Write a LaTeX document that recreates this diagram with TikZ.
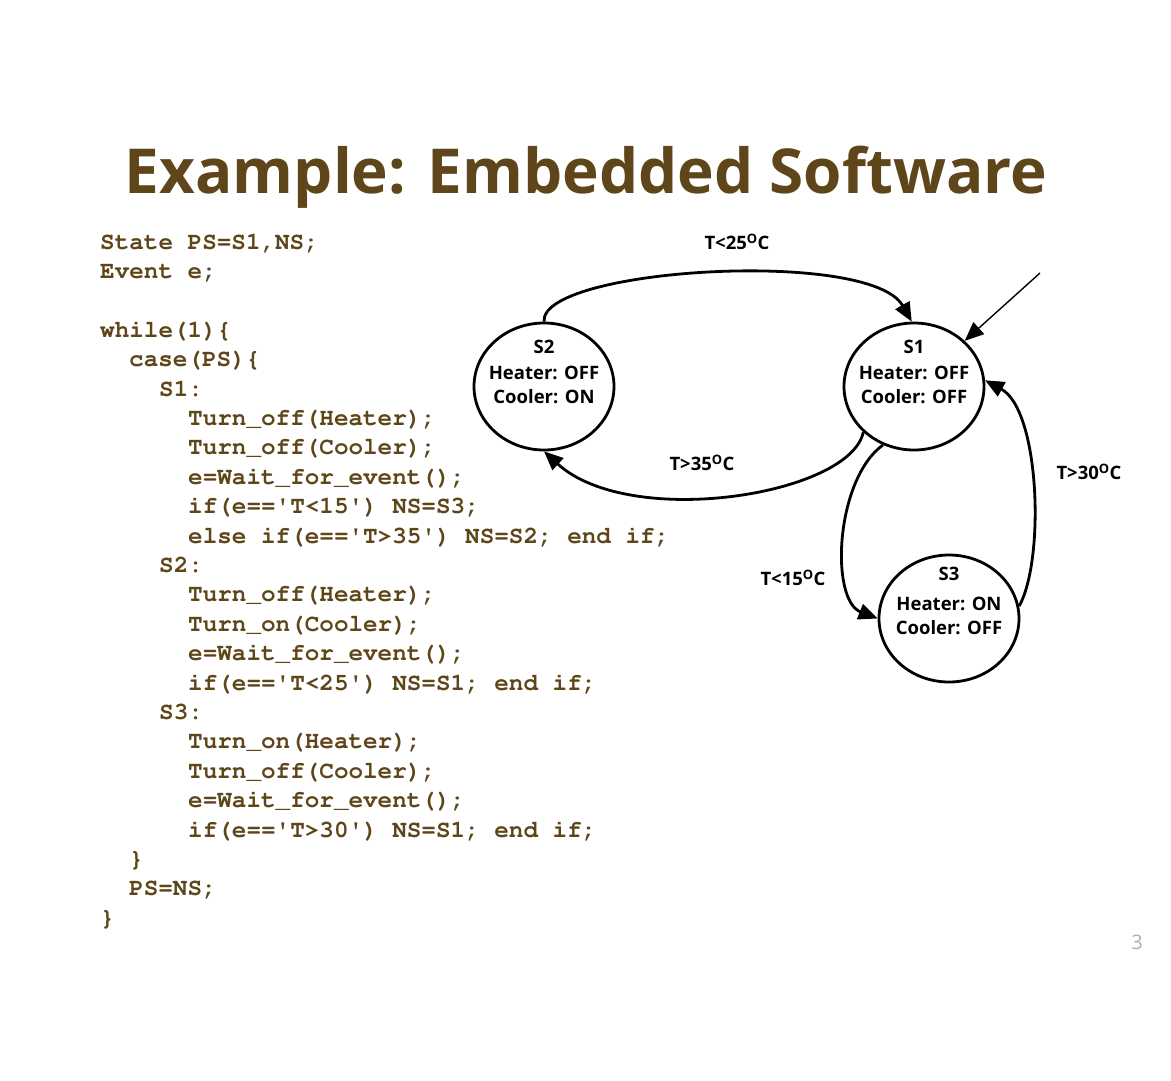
\documentclass[tikz,border=0pt]{standalone}
\usepackage[T1]{fontenc}
\usepackage{fontspec}
\setmainfont{Open Sans}
\newfontfamily\titlefont{Open Sans}
\usetikzlibrary{arrows.meta,calc,shapes.geometric}
\definecolor{slidebrown}{RGB}{94,70,26}
\definecolor{pagegray}{RGB}{175,175,175}
% bold Courier for the program listing
\newcommand\listingfont{\fontencoding{T1}\fontfamily{pcr}\fontseries{b}\fontshape{n}\fontsize{24.3}{29.4}\selectfont}
\newcommand\q{\textquotesingle}
\begin{document}
\begin{tikzpicture}[x=1pt,y=-1pt,
  code/.style={anchor=base west,inner sep=0pt,text=slidebrown,font=\listingfont},
  state/.style={ellipse,draw,line width=2.8pt,minimum width=140pt,minimum height=127pt,inner sep=0pt},
  statetext/.style={align=center,inner sep=0pt,
    font=\bfseries\fontsize{18.5}{24}\selectfont},
  edgelabel/.style={inner sep=0pt,font=\bfseries\fontsize{18.5}{22}\selectfont},
  trans/.style={line width=2.8pt,-{Triangle[length=19pt,width=16pt]}}]
\useasboundingbox (0,0) rectangle (1171,1080);
\fill[white] (0,0) rectangle (1171,1080);

% title
\node[anchor=base,inner sep=0pt,text=slidebrown,
  font=\titlefont\bfseries\fontsize{62}{70}\selectfont] (title) at (586,193)
  {Example: Embedded Software};

% program listing
\node[code] (c0)  at (100,249)   {State PS=S1,NS;};
\node[code] (c1)  at (100,278.4) {Event e;};
\node[code] (c3)  at (100,337.2) {while(1)\{};
\node[code] (c4)  at (129,366.6) {case(PS)\{};
\node[code] (c5)  at (159,396)   {S1:};
\node[code] (c6)  at (188,425.4) {Turn\_off(Heater);};
\node[code] (c7)  at (188,454.8) {Turn\_off(Cooler);};
\node[code] (c8)  at (188,484.2) {e=Wait\_for\_event();};
\node[code] (c9)  at (188,513.6) {if(e==\q T<15\q) NS=S3;};
\node[code] (c10) at (188,543)   {else if(e==\q T>35\q) NS=S2; end if;};
\node[code] (c11) at (159,572.4) {S2:};
\node[code] (c12) at (188,601.8) {Turn\_off(Heater);};
\node[code] (c13) at (188,631.2) {Turn\_on(Cooler);};
\node[code] (c14) at (188,660.6) {e=Wait\_for\_event();};
\node[code] (c15) at (188,690)   {if(e==\q T<25\q) NS=S1; end if;};
\node[code] (c16) at (159,719.4) {S3:};
\node[code] (c17) at (188,748.8) {Turn\_on(Heater);};
\node[code] (c18) at (188,778.2) {Turn\_off(Cooler);};
\node[code] (c19) at (188,807.6) {e=Wait\_for\_event();};
\node[code] (c20) at (188,837)   {if(e==\q T>30\q) NS=S1; end if;};
\node[code] (c21) at (129,866.4) {\}};
\node[code] (c22) at (129,895.8) {PS=NS;};
\node[code] (c23) at (100,925.2) {\}};

% states
\node[state] (s2) at (544,386.5) {};
\node[state] (s1) at (914,386.5) {};
\node[state] (s3) at (949,618.5) {};
\node[statetext] (t2) at (544,372) {S2\\[2pt]Heater: OFF\\Cooler: ON};
\node[statetext] (t1) at (914,372) {S1\\[2pt]Heater: OFF\\Cooler: OFF};
\node[statetext] (t3) at (949,601) {S3\\[6pt]Heater: ON\\Cooler: OFF};

% initial arrow
\coordinate (init) at (1040,273);
\draw[trans,line width=1.4pt] (init) -- (s1);

% transitions
\draw[trans] (s2.90) .. controls (540,268) and (870,248) .. (s1.92);
\draw[trans] (s1.222) .. controls (850,495) and (630,530) .. (s2.270);
\draw[trans] (s1.242) .. controls (835,480) and (830,600) .. (s3.180);
\draw[trans] (s3.10) .. controls (1045,560) and (1040,410) .. (s1.5);

% transition labels
\node[edgelabel] (l25) at (737,242) {T<25\textsuperscript{O}C};
\node[edgelabel] (l35) at (702,463) {T>35\textsuperscript{O}C};
\node[edgelabel] (l15) at (793,578) {T<15\textsuperscript{O}C};
\node[edgelabel] (l30) at (1089,472) {T>30\textsuperscript{O}C};

% slide number
\node[inner sep=0pt,text=pagegray,font=\fontsize{20}{24}\selectfont] (pg) at (1137,942) {3};
\end{tikzpicture}
\end{document}
